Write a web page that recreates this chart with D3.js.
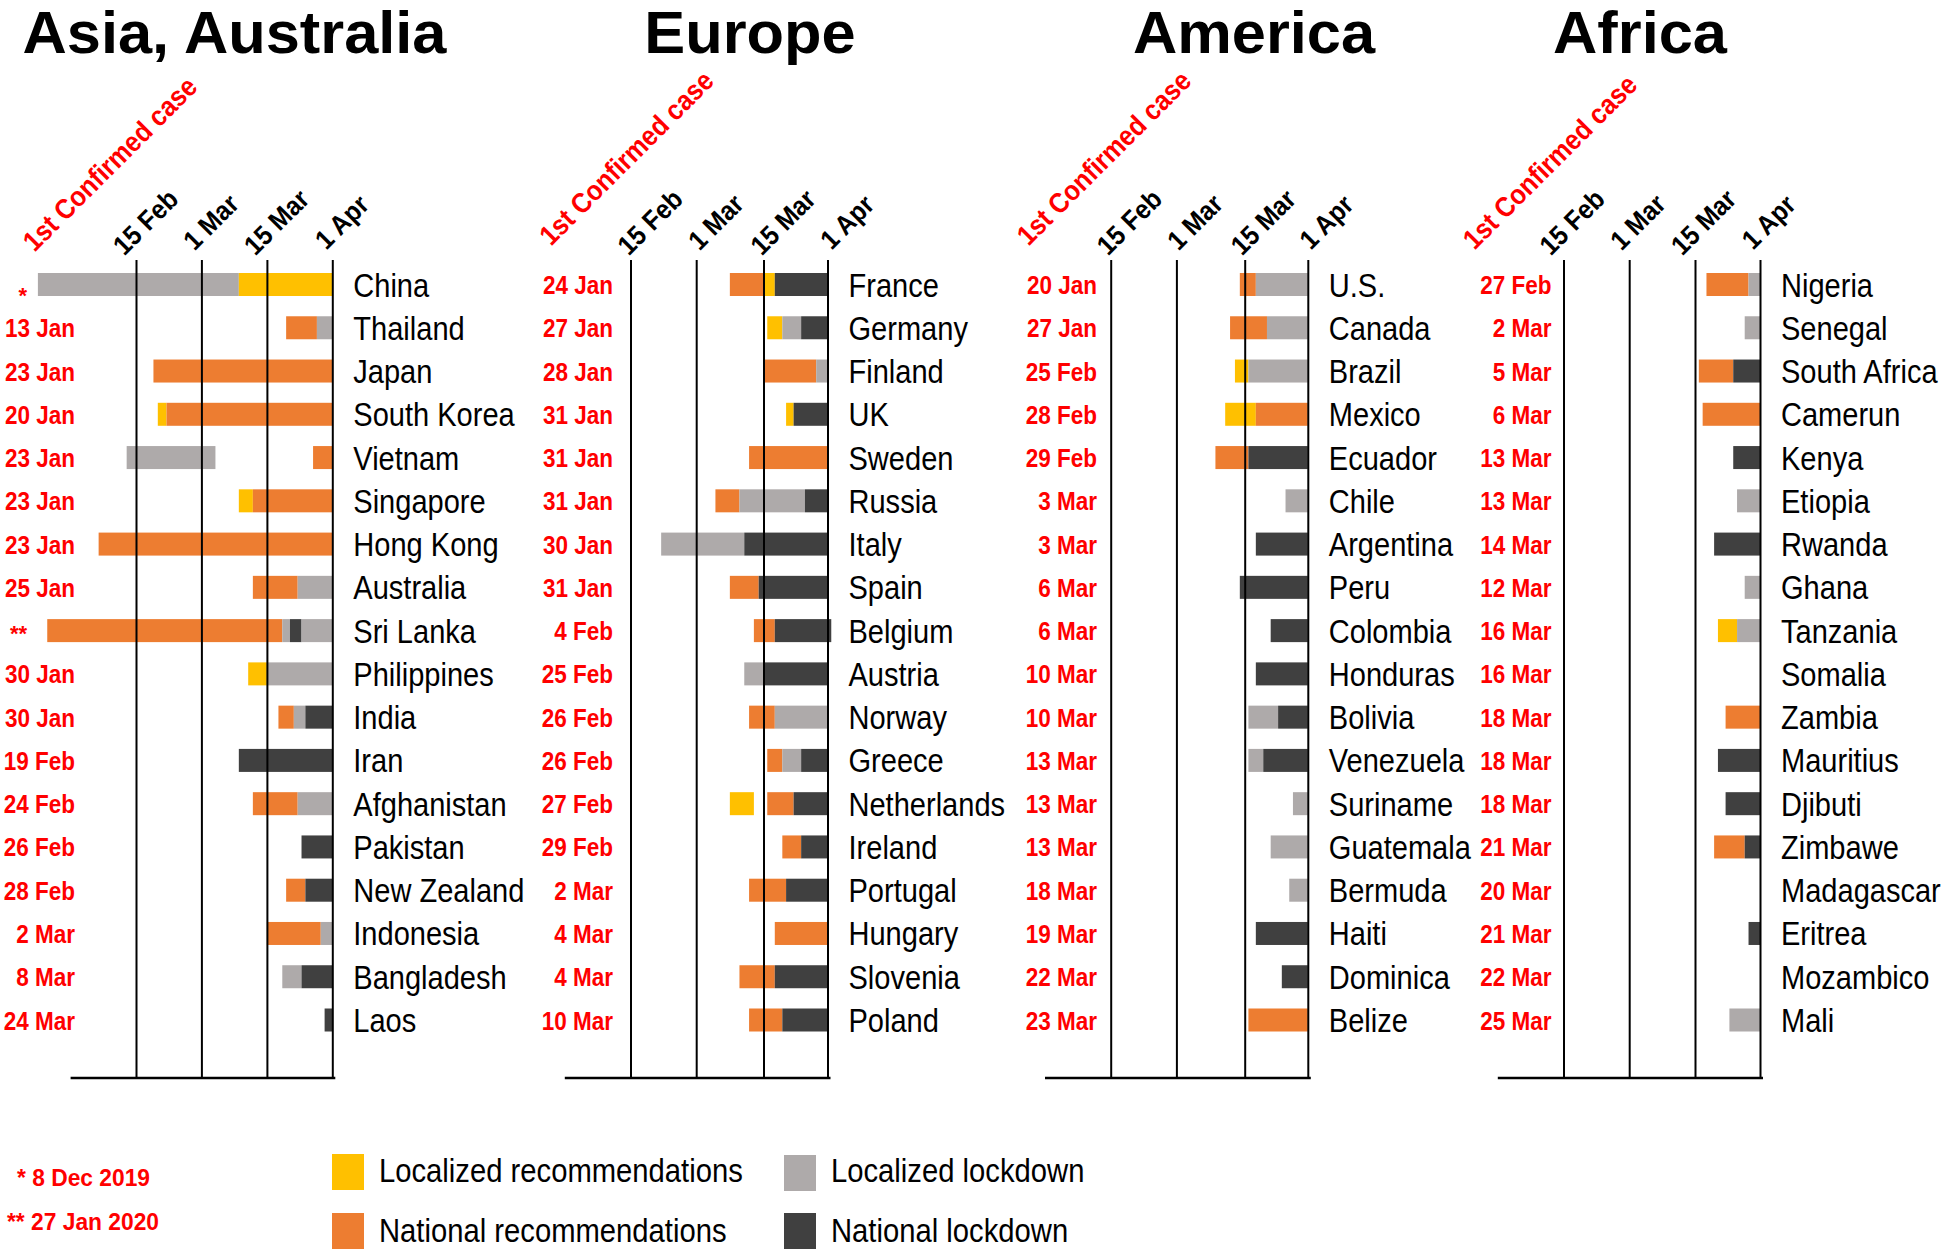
<!DOCTYPE html>
<html><head><meta charset="utf-8">
<script src="https://cdn.jsdelivr.net/npm/d3@7"></script>
<style>body{margin:0;background:#fff}svg{display:block;font-family:"Liberation Sans",Arial,sans-serif}</style>
</head><body><svg id="c" width="1946" height="1252"></svg>
<script>
// ---------- data ----------
const policyTypes = ["LR", "NR", "LL", "NL"];
const policyLabels = ["Localized recommendations", "National recommendations", "Localized lockdown", "National lockdown"];
const policyColors = ["#FFC000", "#ED7D31", "#AEAAAA", "#404040"];
const tickDates = ["02-15", "03-01", "03-15", "04-01"];
const tickLabels = ["15 Feb", "1 Mar", "15 Mar", "1 Apr"];
const regionTitles = ["Asia, Australia", "Europe", "America", "Africa"];
const firstCaseTitle = "1st Confirmed case";
const footnotes = ["* 8 Dec 2019", "** 27 Jan 2020"];

const asiaCountries = ["China","Thailand","Japan","South Korea","Vietnam","Singapore","Hong Kong","Australia","Sri Lanka","Philippines","India","Iran","Afghanistan","Pakistan","New Zealand","Indonesia","Bangladesh","Laos"];
const asiaFirstCase = ["*","13 Jan","23 Jan","20 Jan","23 Jan","23 Jan","23 Jan","25 Jan","**","30 Jan","30 Jan","19 Feb","24 Feb","26 Feb","28 Feb","2 Mar","8 Mar","24 Mar"];
const asiaBars = [
 [["LL","01-25","03-09"],["LR","03-09","04-01"]],
 [["NR","03-20","03-28"],["LL","03-28","04-01"]],
 [["NR","02-19","04-01"]],
 [["LR","02-20","02-22"],["NR","02-22","04-01"]],
 [["LL","02-13","03-04"],["NR","03-27","04-01"]],
 [["LR","03-09","03-12"],["NR","03-12","04-01"]],
 [["NR","02-07","04-01"]],
 [["NR","03-12","03-23"],["LL","03-23","04-01"]],
 [["NR","01-27","03-19"],["LL","03-19","03-21"],["NL","03-21","03-24"],["LL","03-24","04-01"]],
 [["LR","03-11","03-15"],["LL","03-15","04-01"]],
 [["NR","03-18","03-22"],["LL","03-22","03-25"],["NL","03-25","04-01"]],
 [["NL","03-09","04-01"]],
 [["NR","03-12","03-23"],["LL","03-23","04-01"]],
 [["NL","03-24","04-01"]],
 [["NR","03-20","03-25"],["NL","03-25","04-01"]],
 [["NR","03-15","03-29"],["LL","03-29","04-01"]],
 [["LL","03-19","03-24"],["NL","03-24","04-01"]],
 [["NL","03-30","04-01"]]
];

const europeCountries = ["France","Germany","Finland","UK","Sweden","Russia","Italy","Spain","Belgium","Austria","Norway","Greece","Netherlands","Ireland","Portugal","Hungary","Slovenia","Poland"];
const europeFirstCase = ["24 Jan","27 Jan","28 Jan","31 Jan","31 Jan","31 Jan","30 Jan","31 Jan","4 Feb","25 Feb","26 Feb","26 Feb","27 Feb","29 Feb","2 Mar","4 Mar","4 Mar","10 Mar"];
const europeBars = [
 [["NR","03-08","03-15"],["LR","03-15","03-18"],["NL","03-18","04-01"]],
 [["LR","03-16","03-20"],["LL","03-20","03-25"],["NL","03-25","04-01"]],
 [["NR","03-15","03-29"],["LL","03-29","04-01"]],
 [["LR","03-21","03-23"],["NL","03-23","04-01"]],
 [["NR","03-12","04-01"]],
 [["NR","03-05","03-10"],["LL","03-10","03-26"],["NL","03-26","04-01"]],
 [["LL","02-22","03-11"],["NL","03-11","04-01"]],
 [["NR","03-08","03-14"],["NL","03-14","04-01"]],
 [["NR","03-13","03-18"],["NL","03-18","04-02"]],
 [["LL","03-11","03-15"],["NL","03-15","04-01"]],
 [["NR","03-12","03-18"],["LL","03-18","04-01"]],
 [["NR","03-16","03-20"],["LL","03-20","03-25"],["NL","03-25","04-01"]],
 [["LR","03-08","03-13"],["NR","03-16","03-23"],["NL","03-23","04-01"]],
 [["NR","03-20","03-25"],["NL","03-25","04-01"]],
 [["NR","03-12","03-21"],["NL","03-21","04-01"]],
 [["NR","03-18","04-01"]],
 [["NR","03-10","03-18"],["NL","03-18","04-01"]],
 [["NR","03-12","03-20"],["NL","03-20","04-01"]]
];

const americaCountries = ["U.S.","Canada","Brazil","Mexico","Ecuador","Chile","Argentina","Peru","Colombia","Honduras","Bolivia","Venezuela","Suriname","Guatemala","Bermuda","Haiti","Dominica","Belize"];
const americaFirstCase = ["20 Jan","27 Jan","25 Feb","28 Feb","29 Feb","3 Mar","3 Mar","6 Mar","6 Mar","10 Mar","10 Mar","13 Mar","13 Mar","13 Mar","18 Mar","19 Mar","22 Mar","23 Mar"];
const americaBars = [
 [["NR","03-14","03-18"],["LL","03-18","04-01"]],
 [["NR","03-12","03-21"],["LL","03-21","04-01"]],
 [["LR","03-13","03-16"],["LL","03-16","04-01"]],
 [["LR","03-11","03-18"],["NR","03-18","04-01"]],
 [["NR","03-09","03-16"],["NL","03-16","04-01"]],
 [["LL","03-26","04-01"]],
 [["NL","03-18","04-01"]],
 [["NL","03-14","04-01"]],
 [["NL","03-22","04-01"]],
 [["NL","03-18","04-01"]],
 [["LL","03-16","03-24"],["NL","03-24","04-01"]],
 [["LL","03-16","03-20"],["NL","03-20","04-01"]],
 [["LL","03-28","04-01"]],
 [["LL","03-22","04-01"]],
 [["LL","03-27","04-01"]],
 [["NL","03-18","04-01"]],
 [["NL","03-25","04-01"]],
 [["NR","03-16","04-01"]]
];

const africaCountries = ["Nigeria","Senegal","South Africa","Camerun","Kenya","Etiopia","Rwanda","Ghana","Tanzania","Somalia","Zambia","Mauritius","Djibuti","Zimbawe","Madagascar","Eritrea","Mozambico","Mali"];
const africaFirstCase = ["27 Feb","2 Mar","5 Mar","6 Mar","13 Mar","13 Mar","14 Mar","12 Mar","16 Mar","16 Mar","18 Mar","18 Mar","18 Mar","21 Mar","20 Mar","21 Mar","22 Mar","25 Mar"];
const africaBars = [
 [["NR","03-18","03-29"],["LL","03-29","04-01"]],
 [["LL","03-28","04-01"]],
 [["NR","03-16","03-25"],["NL","03-25","04-01"]],
 [["NR","03-17","04-01"]],
 [["NL","03-25","04-01"]],
 [["LL","03-26","04-01"]],
 [["NL","03-20","04-01"]],
 [["LL","03-28","04-01"]],
 [["LR","03-21","03-26"],["LL","03-26","04-01"]],
 [],
 [["NR","03-23","04-01"]],
 [["NL","03-21","04-01"]],
 [["NL","03-23","04-01"]],
 [["NR","03-20","03-28"],["NL","03-28","04-01"]],
 [],
 [["NL","03-29","04-01"]],
 [],
 [["LL","03-24","04-01"]]
];

// ---------- layout (positions only) ----------
const W = 1946, H = 1252;
const layouts = [
  {grid:[136,201.4,266.9,332.3], titleX:234.5, dateRight:75, cf:[110,164], tickDx:9},
  {grid:[630.5,696.2,763.5,827.5], titleX:750, dateRight:613, cf:[626.5,158], tickDx:19},
  {grid:[1110.7,1176.4,1244.7,1307.8], titleX:1254, dateRight:1097, cf:[1104,158], tickDx:18},
  {grid:[1563.5,1629.2,1695,1760], titleX:1640, dateRight:1551.5, cf:[1550,162], tickDx:8}
];
const panels = [
  {countries:asiaCountries, first:asiaFirstCase, bars:asiaBars},
  {countries:europeCountries, first:europeFirstCase, bars:europeBars},
  {countries:americaCountries, first:americaFirstCase, bars:americaBars},
  {countries:africaCountries, first:africaFirstCase, bars:africaBars}
];
const gridTop = 260, gridBottom = 1078, barH = 23;
const RED = "#FF0000";
const parseDay = s => d3.timeParse("%Y-%m-%d")("2020-" + s);
const color = d3.scaleOrdinal().domain(policyTypes).range(policyColors);

const svg = d3.select("#c");
svg.append("rect").attr("width", W).attr("height", H).attr("fill", "#fff");

panels.forEach((P, i) => {
  const L = layouts[i];
  const step = L.grid[1] - L.grid[0];
  const x = d3.scaleTime()
    .domain(["02-01", ...tickDates].map(parseDay))
    .range([L.grid[0] - step, ...L.grid]);
  const y = d3.scalePoint().domain(P.countries).range([284.5, 1020]);
  const g = svg.append("g");

  // title
  g.append("text").attr("transform", `translate(${L.titleX},53) scale(1.04,1)`).attr("text-anchor", "middle")
    .attr("font-size", 59).attr("font-weight", "bold").attr("fill", "#000").text(regionTitles[i]);

  // bars
  P.countries.forEach((c, j) => {
    g.selectAll(null).data(P.bars[j]).enter().append("rect")
      .attr("x", d => x(parseDay(d[1])))
      .attr("width", d => x(parseDay(d[2])) - x(parseDay(d[1])))
      .attr("y", y(c) - barH / 2).attr("height", barH)
      .attr("fill", d => color(d[0]));
  });

  // grid lines via axis
  const axis = d3.axisTop(x).tickValues(tickDates.map(parseDay))
    .tickFormat((d, k) => tickLabels[k]).tickSize(-(gridBottom - gridTop)).tickSizeOuter(0);
  const ag = g.append("g").attr("transform", `translate(0,${gridTop})`).call(axis)
    .attr("font-size", null).attr("font-family", null);
  ag.select(".domain").remove();
  ag.selectAll(".tick line").attr("stroke", "#000").attr("stroke-width", 2);
  ag.selectAll(".tick text")
    .attr("x", 0).attr("y", 0).attr("dy", null)
    .attr("transform", `translate(${L.tickDx},${222 - gridTop}) rotate(-45) scale(0.92,1)`)
    .attr("text-anchor", "middle").attr("dominant-baseline", "central")
    .attr("font-size", 27).attr("font-weight", "bold").attr("fill", "#000");

  // bottom line
  g.append("line").attr("x1", x(parseDay("02-01"))).attr("x2", x(parseDay("04-01")) + 3)
    .attr("y1", gridBottom).attr("y2", gridBottom).attr("stroke", "#000").attr("stroke-width", 2.5);

  // first case header
  g.append("text").attr("transform", `translate(${L.cf[0]},${L.cf[1]}) rotate(-45) scale(0.9,1)`)
    .attr("text-anchor", "middle").attr("dominant-baseline", "central")
    .attr("font-size", 28).attr("font-weight", "bold").attr("fill", RED).text(firstCaseTitle);

  // first case dates
  g.selectAll(null).data(P.countries).enter().append("text")
    .attr("transform", (c, j) => {
      const lab = P.first[j];
      const xx = lab.startsWith("*") ? 27 : L.dateRight;
      const yy = y(c) + (lab === "*" ? 18 : lab === "**" ? 10 : 9.5);
      return `translate(${xx},${yy}) scale(${lab.startsWith("*") ? 1 : 0.9},1)`;
    })
    .attr("text-anchor", "end").attr("font-weight", "bold")
    .attr("font-size", (c, j) => P.first[j].startsWith("*") ? 22 : 25)
    .attr("fill", RED).text((c, j) => P.first[j]);

  // country names
  g.selectAll(null).data(P.countries).enter().append("text")
    .attr("transform", c => `translate(${L.grid[3] + 21},${y(c) + 12}) scale(0.88,1)`)
    .attr("font-size", 33).attr("fill", "#000").text(c => c);
});

// ---------- legend ----------
const legendPos = [[332, 1154], [332, 1213], [784, 1155], [784, 1213]];
const baselines = [1182, 1242, 1182, 1242];
const lg = svg.append("g");
policyTypes.forEach((t, k) => {
  lg.append("rect").attr("x", legendPos[k][0]).attr("y", legendPos[k][1])
    .attr("width", 32).attr("height", 36).attr("fill", color(t));
  lg.append("text").attr("transform", `translate(${legendPos[k][0] + 47},${baselines[k]}) scale(0.86,1)`)
    .attr("font-size", 34).attr("fill", "#000").text(policyLabels[k]);
});
lg.append("text").attr("transform", "translate(17,1186) scale(0.95,1)").attr("font-size", 24).attr("font-weight", "bold")
  .attr("fill", RED).text(footnotes[0]);
lg.append("text").attr("transform", "translate(7,1230) scale(0.95,1)").attr("font-size", 24).attr("font-weight", "bold")
  .attr("fill", RED).text(footnotes[1]);
</script></body></html>
